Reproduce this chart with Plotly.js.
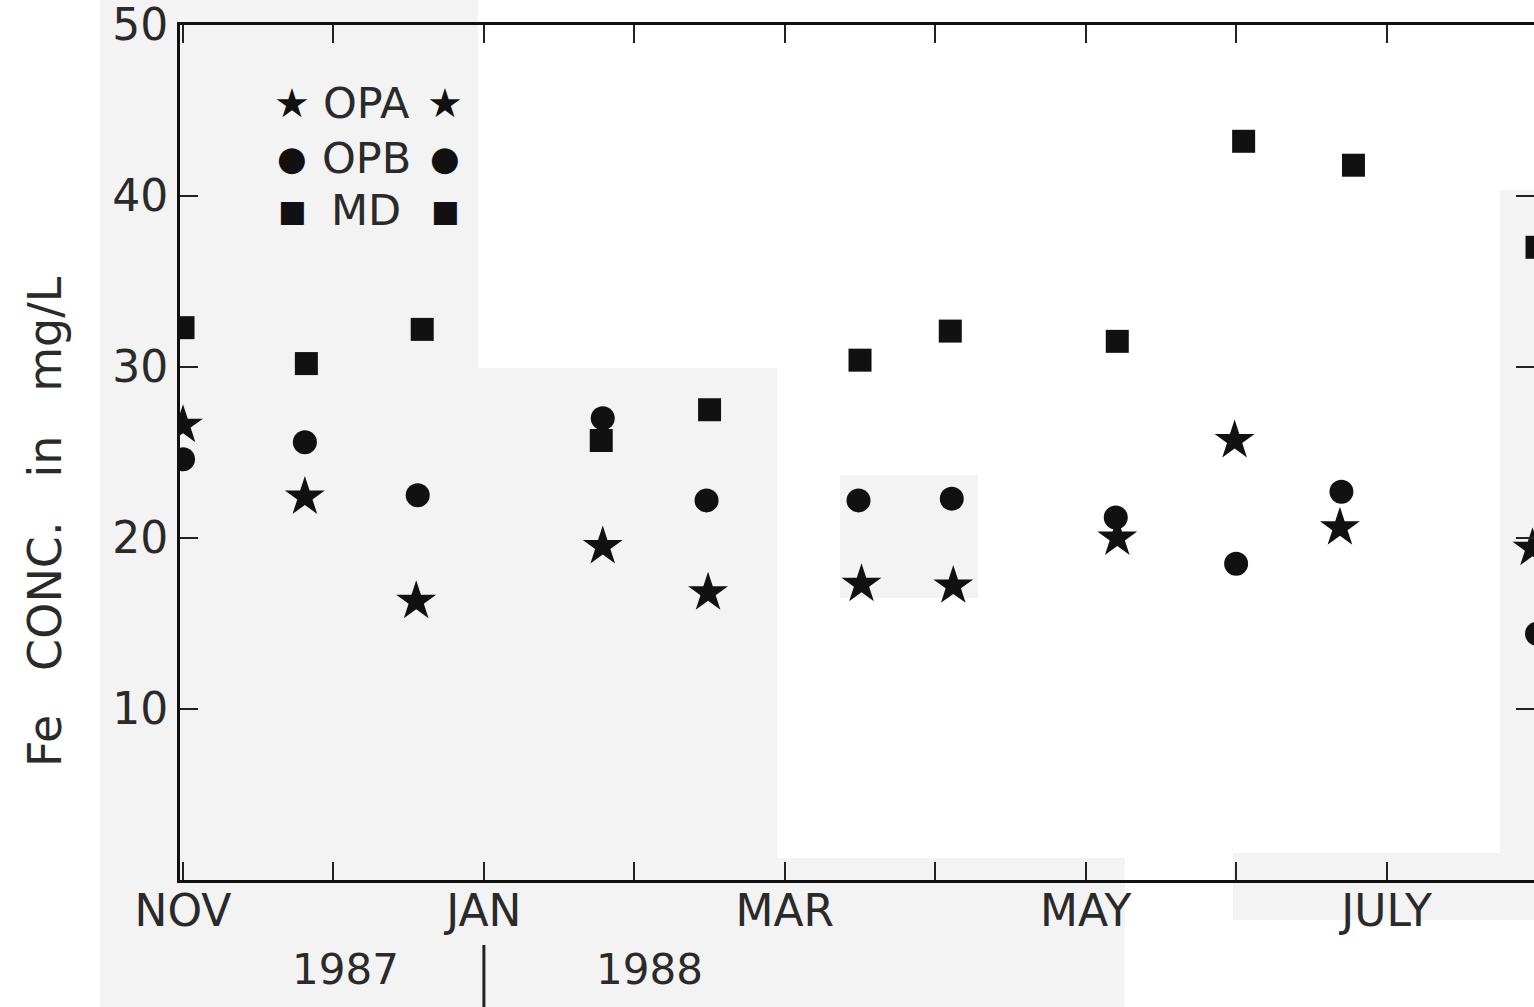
<!DOCTYPE html>
<html>
<head>
<meta charset="utf-8">
<script src="https://cdn.plot.ly/plotly-3.0.1.min.js"></script>
<style>
html,body{margin:0;padding:0;background:#fff;}
#wrap{position:relative;width:1534px;height:1007px;overflow:hidden;background:#fff;}
.patch{position:absolute;background:#f3f3f3;}
#chart{position:absolute;left:0;top:0;width:1534px;height:1007px;}
</style>
</head>
<body>
<div id="wrap">
  <div class="patch" style="left:100px;top:0;width:378px;height:368px"></div>
  <div class="patch" style="left:100px;top:368px;width:677px;height:639px"></div>
  <div class="patch" style="left:777px;top:858px;width:348px;height:149px"></div>
  <div class="patch" style="left:840px;top:475px;width:138px;height:123px"></div>
  <div class="patch" style="left:1233px;top:853px;width:301px;height:67px"></div>
  <div class="patch" style="left:1500px;top:190px;width:34px;height:665px"></div>
  <div id="chart"></div>
</div>
<script>
// months since 1 Nov 1987
var opaX = [0, 0.81, 1.55, 2.79, 3.49, 4.51, 5.12, 6.21, 6.99, 7.69, 8.97];
var opaY = [26.6, 22.4, 16.3, 19.5, 16.8, 17.3, 17.2, 20.0, 25.7, 20.6, 19.4];
var opbX = [0, 0.81, 1.56, 2.79, 3.48, 4.49, 5.11, 6.20, 7.00, 7.70, 9.0];
var opbY = [24.6, 25.6, 22.5, 27.0, 22.2, 22.2, 22.3, 21.2, 18.5, 22.7, 14.4];
var mdX  = [0, 0.82, 1.59, 2.78, 3.50, 4.50, 5.10, 6.21, 7.05, 7.78, 9.0];
var mdY  = [32.3, 30.2, 32.2, 25.7, 27.5, 30.4, 32.1, 31.5, 43.2, 41.8, 37.0];
var monthTicks = [0, 1, 2, 3, 4, 5, 6, 7, 8, 9];
var monthLabels = ['NOV', '', 'JAN', '', 'MAR', '', 'MAY', '', 'JULY', ''];
var yTicks = [10, 20, 30, 40, 50];
var yearLabels = ['1987', '1988'];
var yearPos = [1.08, 3.10];
var seriesNames = ['OPA', 'OPB', 'MD'];

var FONT = 'DejaVu Sans, sans-serif';
var INK = '#2a2a2a';

var traces = [
  {x: opaX, y: opaY, name: seriesNames[0], mode: 'markers', type: 'scatter', cliponaxis: true,
   marker: {symbol: 'star', size: 30, color: '#111'}},
  {x: opbX, y: opbY, name: seriesNames[1], mode: 'markers', type: 'scatter', cliponaxis: true,
   marker: {symbol: 'circle', size: 24, color: '#111'}},
  {x: mdX, y: mdY, name: seriesNames[2], mode: 'markers', type: 'scatter', cliponaxis: true,
   marker: {symbol: 'square', size: 23, color: '#111'}}
];

function px2paperX(p){ return (p - 180) / 1354; }
function px2paperY(p){ return (880 - p) / 855; }

var annotations = [];
// legend
var legRows = [
  {y: 103, glyph: '\u2605', gsize: 40, name: seriesNames[0]},
  {y: 158, glyph: '\u25CF', gsize: 34, name: seriesNames[1]},
  {y: 210, glyph: '\u25A0', gsize: 30, name: seriesNames[2]}
];
legRows.forEach(function(r){
  annotations.push({xref:'paper', yref:'paper', x: px2paperX(292), y: px2paperY(r.y), text: r.glyph,
    showarrow:false, xanchor:'center', yanchor:'middle', font:{family:FONT, size:r.gsize, color:'#111'}});
  annotations.push({xref:'paper', yref:'paper', x: px2paperX(445), y: px2paperY(r.y), text: r.glyph,
    showarrow:false, xanchor:'center', yanchor:'middle', font:{family:FONT, size:r.gsize, color:'#111'}});
  annotations.push({xref:'paper', yref:'paper', x: px2paperX(366), y: px2paperY(r.y), text: r.name,
    showarrow:false, xanchor:'center', yanchor:'middle', font:{family:FONT, size:43, color:INK}});
});
// y title
annotations.push({xref:'paper', yref:'paper', x: px2paperX(45), y: px2paperY(522),
  text: 'Fe\u00a0\u00a0 CONC.\u00a0\u00a0 in\u00a0\u00a0 mg/L', textangle: -90, showarrow:false,
  xanchor:'center', yanchor:'middle', font:{family:FONT, size:46, color:INK}});
// years
yearLabels.forEach(function(t, i){
  annotations.push({xref:'x', yref:'paper', x: yearPos[i], y: px2paperY(970), text: t, showarrow:false,
    xanchor:'center', yanchor:'middle', font:{family:FONT, size:42, color:INK}});
});

var layout = {
  width: 1534, height: 1007,
  margin: {l: 180, r: 0, t: 25, b: 127, pad: 0},
  paper_bgcolor: 'rgba(0,0,0,0)', plot_bgcolor: 'rgba(0,0,0,0)',
  showlegend: false,
  font: {family: FONT, color: INK},
  xaxis: {
    range: [-0.02, 8.98], tickmode: 'array', tickvals: monthTicks, ticktext: monthLabels,
    ticks: 'inside', ticklen: 18, tickwidth: 2, tickcolor: '#222', ticklabelstandoff: -10,
    ticklabeloverflow: 'allow',
    showline: true, linecolor: '#111', linewidth: 3, mirror: 'ticks',
    showgrid: false, zeroline: false, tickfont: {family: FONT, size: 44, color: INK},
    title: {text: ''}
  },
  yaxis: {
    range: [0, 50], tickmode: 'array', tickvals: yTicks,
    ticks: 'inside', ticklen: 18, tickwidth: 2, tickcolor: '#222',
    ticklabeloverflow: 'allow',
    showline: true, linecolor: '#111', linewidth: 3, mirror: 'ticks',
    showgrid: false, zeroline: false, tickfont: {family: FONT, size: 44, color: INK},
    title: {text: ''}
  },
  annotations: annotations,
  shapes: [
    {type: 'line', xref: 'x', yref: 'paper', x0: 2, x1: 2, y0: px2paperY(945), y1: px2paperY(1010),
     line: {color: '#222', width: 3}}
  ]
};

Plotly.newPlot('chart', traces, layout, {displayModeBar: false, staticPlot: true});
</script>
</body>
</html>
